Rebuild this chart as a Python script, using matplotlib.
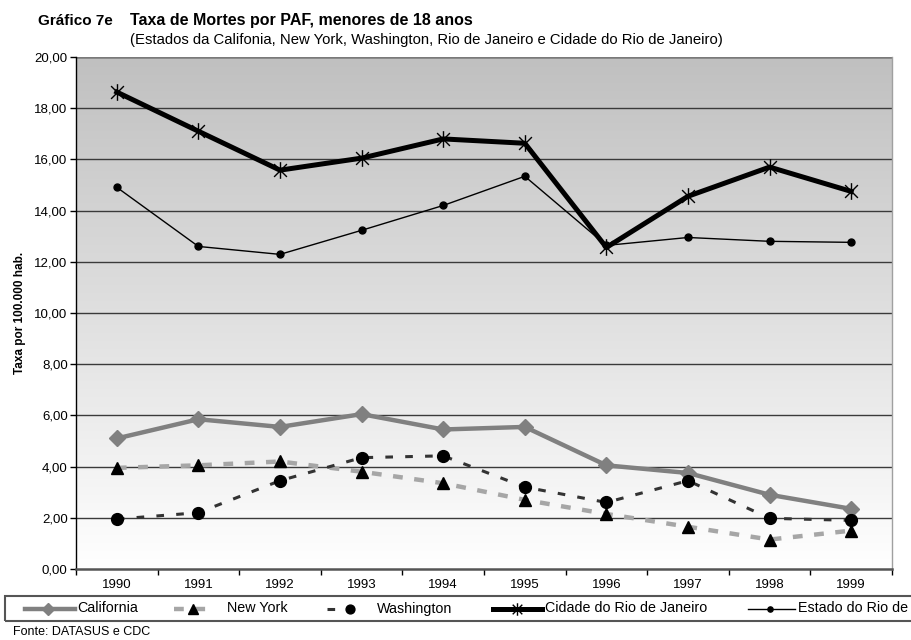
import numpy as np
import matplotlib
matplotlib.use("Agg")
import matplotlib.pyplot as plt
from matplotlib.path import Path
from matplotlib.lines import Line2D
from matplotlib.patches import Rectangle

plt.rcParams["font.family"] = ["Liberation Sans", "DejaVu Sans"]

# ─────────────────────────────────────────
#  Dados
# ─────────────────────────────────────────
anos = ["1990", "1991", "1992", "1993", "1994",
        "1995", "1996", "1997", "1998", "1999"]

california  = [5.10, 5.85, 5.55, 6.05, 5.45, 5.55, 4.05, 3.75, 2.90, 2.35]
new_york    = [3.95, 4.05, 4.20, 3.80, 3.35, 2.70, 2.15, 1.65, 1.15, 1.50]
washington  = [1.95, 2.20, 3.45, 4.35, 4.42, 3.20, 2.60, 3.45, 1.98, 1.90]
cidade_rio  = [18.63, 17.10, 15.58, 16.05, 16.80, 16.63, 12.56, 14.56, 15.70, 14.75]
estado_rio  = [14.91, 12.60, 12.29, 13.23, 14.20, 15.34, 12.64, 12.95, 12.80, 12.76]

y_ticks = [0, 2, 4, 6, 8, 10, 12, 14, 16, 18, 20]

# marcador "asterisco" estilo Excel (X + barra vertical)
star = Path(
    [(-1, -1), (1, 1), (-1, 1), (1, -1), (0, -1.3), (0, 1.3)],
    [Path.MOVETO, Path.LINETO, Path.MOVETO, Path.LINETO, Path.MOVETO, Path.LINETO],
)

styles = {
    "California": dict(color="#808080", lw=3.2, ls="-", marker="D", ms=8.5,
                       mfc="#808080", mec="#808080"),
    "New York": dict(color="#a6a6a6", lw=3.2, ls=(0, (2.2, 2.6)), marker="^", ms=9,
                     mfc="black", mec="black"),
    "Washington": dict(color="#333333", lw=2.2, ls=(0, (2.5, 4)), marker="o", ms=8.5,
                       mfc="black", mec="black"),
    "Cidade do Rio de Janeiro": dict(color="black", lw=3.6, ls="-", marker=star, ms=12,
                                     mfc="none", mec="black", mew=1.0),
    "Estado do Rio de Janeiro": dict(color="black", lw=1.0, ls="-", marker="o", ms=5,
                                     mfc="black", mec="black"),
}
series = {
    "California": california,
    "New York": new_york,
    "Washington": washington,
    "Cidade do Rio de Janeiro": cidade_rio,
    "Estado do Rio de Janeiro": estado_rio,
}

# ─────────────────────────────────────────
#  Figura
# ─────────────────────────────────────────
fig = plt.figure(figsize=(9.12, 6.4), dpi=100)
ax = fig.add_axes([76 / 912, 71 / 640, 816 / 912, 512 / 640])

x = np.arange(len(anos))
ax.set_xlim(-0.5, len(anos) - 0.5)
ax.set_ylim(0, 20)

# fundo em degradê (cinza no topo -> branco embaixo)
grad = np.linspace(1.0, 0.0, 256).reshape(-1, 1)
ax.imshow(grad, extent=[-0.5, len(anos) - 0.5, 0, 20], aspect="auto",
          cmap=matplotlib.colors.LinearSegmentedColormap.from_list(
              "bg", ["#ffffff", "#c0c0c0"]),
          vmin=0, vmax=1, zorder=0, origin="upper")

for yv in y_ticks[1:-1]:
    ax.axhline(yv, color="#3a3a3a", lw=1.0, zorder=1)
ax.axhline(20, color="#7a7a7a", lw=1.8, zorder=1)

for nome, vals in series.items():
    ax.plot(x, vals, zorder=3, **styles[nome])

# eixos
ax.set_yticks(y_ticks)
ax.set_yticklabels([f"{v:.2f}".replace(".", ",") for v in y_ticks], fontsize=9.5)
ax.set_xticks(np.arange(-0.5, len(anos), 1.0))
ax.set_xticklabels([])
ax.set_xticks(x, minor=True)
ax.set_xticklabels(anos, minor=True, fontsize=9.5)
ax.tick_params(axis="x", which="major", length=4, width=1, color="black")
ax.tick_params(axis="x", which="minor", length=0, pad=7)
ax.tick_params(axis="y", length=4, width=1, pad=2)

ax.spines["left"].set_color("black")
ax.spines["left"].set_linewidth(1.0)
ax.spines["bottom"].set_color("#555555")
ax.spines["bottom"].set_linewidth(1.8)
ax.spines["right"].set_color("#a0a0a0")
ax.spines["right"].set_linewidth(1.0)
ax.spines["top"].set_visible(False)

ax.set_ylabel("Taxa por 100.000 hab.", fontsize=8.5, fontweight="bold", labelpad=6)

# títulos
fig.text(38 / 912, 1 - 21 / 640, "Gráfico 7e", fontsize=11, fontweight="bold",
         va="center", ha="left")
fig.text(130 / 912, 1 - 21 / 640, "Taxa de Mortes por PAF, menores de 18 anos",
         fontsize=11.5, fontweight="bold", va="center", ha="left")
fig.text(130 / 912, 1 - 40 / 640,
         "(Estados da Califonia, New York, Washington, Rio de Janeiro e Cidade do Rio de Janeiro)",
         fontsize=10.7, va="center", ha="left")

# legenda (caixa cortada na borda direita, como no original)
fig.add_artist(Rectangle((5 / 912, 1 - 621 / 640), 1.0, 25 / 640,
                         transform=fig.transFigure, fill=False,
                         edgecolor="#555555", lw=1.5))
leg_y = 1 - 608.5 / 640
leg_items = [
    ("California", 25, 75, 48, 77),
    ("New York", 174, 206, 193, 227),
    ("Washington", 327, 362, 350, 377),
    ("Cidade do Rio de Janeiro", 493, 542, 517, 545),
    ("Estado do Rio de Janeiro", 748, 795, 770, 798),
]
for nome, x0, x1, xm, xt in leg_items:
    st = dict(styles[nome])
    ms = st.pop("ms")
    mk = st.pop("marker")
    mfc = st.pop("mfc")
    mec = st.pop("mec")
    mew = st.pop("mew", 1.0)
    fig.add_artist(Line2D([x0 / 912, x1 / 912], [leg_y, leg_y],
                          transform=fig.transFigure, **st))
    fig.add_artist(Line2D([xm / 912], [leg_y], transform=fig.transFigure,
                          ls="none", marker=mk, ms=ms * 0.75, mfc=mfc,
                          mec=mec, mew=mew))
    fig.text(xt / 912, leg_y, nome, fontsize=10.3, va="center", ha="left")

fig.text(13 / 912, 1 - 632 / 640, "Fonte: DATASUS e CDC", fontsize=9,
         va="center", ha="left")

fig.savefig("out.png", dpi=100)
